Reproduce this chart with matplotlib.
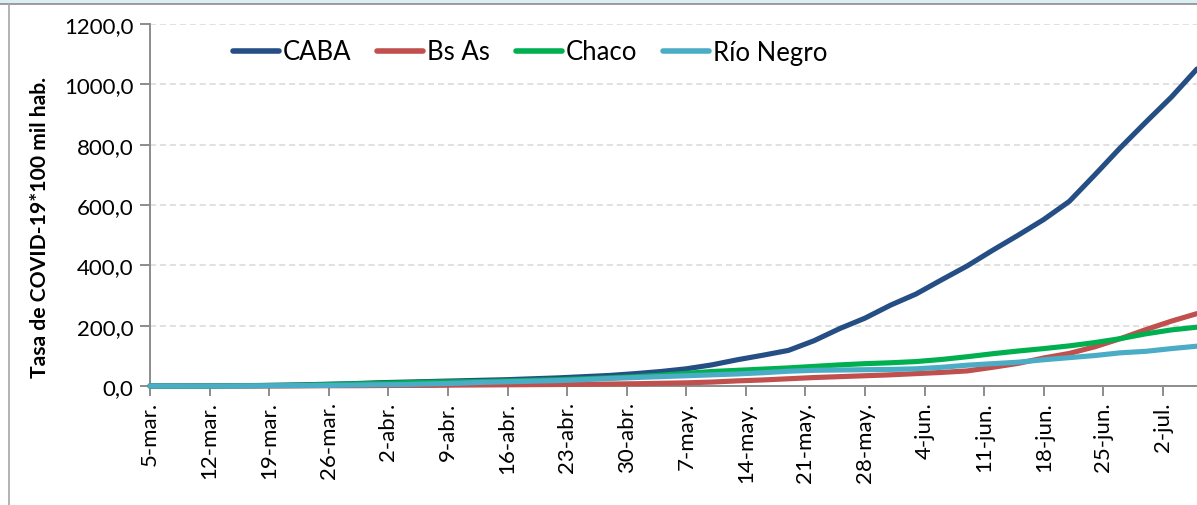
import matplotlib
matplotlib.use('Agg')
import matplotlib.pyplot as plt
from matplotlib.ticker import FuncFormatter
from matplotlib.patches import Rectangle
from matplotlib.lines import Line2D
import pandas as pd

plt.rcParams['font.family'] = ['Lato', 'DejaVu Sans']

# one reading every 3 days, 5-mar to 6-jul
dates = pd.date_range('2020-03-05', '2020-07-06', freq='3D')

caba = [0, 0, 0.5, 1, 1.5, 2.5, 4, 6, 8, 11, 13, 15, 17, 19, 21, 24, 27, 31, 35, 41,
        48, 57, 70, 87, 102, 118, 150, 190, 225, 268, 305, 352, 398, 450, 500, 552,
        612, 700, 790, 875, 958, 1051]
bs_as = [0, 0, 0, 0, 0, 0, 0.5, 1, 1, 1.5, 2, 2, 3, 3.5, 4, 4.5, 5, 5.5, 6.5, 7.5,
         9, 10.5, 13, 17, 20, 24, 28, 31, 34, 37, 41, 45, 50, 62, 75, 93,
         108, 130, 157, 187, 215, 240]
chaco = [0, 0, 0, 0.5, 1, 2, 3, 5, 7, 9, 11, 13, 14, 15, 17, 19, 21, 24, 27, 31,
         36, 42, 48, 52, 56, 60, 65, 70, 74, 77, 81, 88, 97, 107, 116, 124,
         133, 144, 157, 173, 186, 195]
rio_negro = [0, 0, 0, 0, 0.5, 1, 1.5, 2, 3, 4, 5, 7, 9, 12, 14, 16, 18, 21, 25, 28,
             31, 34, 37, 40, 44, 49, 52, 53, 54, 55, 57, 62, 69, 74, 79, 87,
             94, 101, 110, 115, 124, 132]

series_names = ['CABA', 'Bs As', 'Chaco', 'Río Negro']
series_colors = ['#254e84', '#c0504d', '#00b050', '#4bacc6']

tick_dates = pd.date_range('2020-03-05', '2020-07-02', freq='7D')
tick_labels = ['5-mar.', '12-mar.', '19-mar.', '26-mar.', '2-abr.', '9-abr.', '16-abr.',
               '23-abr.', '30-abr.', '7-may.', '14-may.', '21-may.', '28-may.', '4-jun.',
               '11-jun.', '18-jun.', '25-jun.', '2-jul.']

W, H = 1197, 506
fig = plt.figure(figsize=(W / 100, H / 100), dpi=100)
ax = fig.add_axes([150 / W, 1 - 387 / H, (W - 150) / W, (387 - 25) / H])

for vals, name, col in zip([caba, bs_as, chaco, rio_negro], series_names, series_colors):
    ax.plot(dates, vals, color=col, lw=3.7, label=name, solid_capstyle='round',
            solid_joinstyle='round', clip_on=False, zorder=3)

ax.set_ylim(0, 1200)
ax.set_xlim(dates[0], dates[-1])
ax.set_yticks(range(0, 1201, 200))
ax.yaxis.set_major_formatter(FuncFormatter(lambda v, p: f'{v:.1f}'.replace('.', ',')))
ax.set_xticks(tick_dates)
ax.set_xticklabels(tick_labels, rotation=90)

ax.grid(axis='y', color='#d9d9d9', lw=1.1, ls=(0, (4, 2.5)))
ax.set_axisbelow(True)
for s in ['top', 'right']:
    ax.spines[s].set_visible(False)
for s in ['left', 'bottom']:
    ax.spines[s].set_color('#8c8c8c')
    ax.spines[s].set_linewidth(1.4)
ax.tick_params(axis='both', colors='#8c8c8c', length=7, width=1.4, labelsize=16,
               labelcolor='black')
ax.tick_params(axis='x', pad=4)
ax.tick_params(axis='y', pad=5)

fig.text(40 / W, 1 - 227 / H, 'Tasa de COVID-19*100 mil hab.', rotation=90,
         ha='center', va='center', fontsize=15.2, fontweight='bold')

handles = [Line2D([], [], color=c, lw=4, solid_capstyle='round') for c in series_colors]
fig.legend(handles, series_names, loc='center', bbox_to_anchor=(530 / W, 1 - 53 / H),
           ncol=4, frameon=False, fontsize=18.5, handlelength=1.8, handletextpad=0.15,
           columnspacing=1.0, borderaxespad=0)

# frame of the surrounding chart area
fig.patches.append(Rectangle((0, 1 - 5 / H), 1, 5 / H, transform=fig.transFigure,
                             facecolor='#dbeef4', edgecolor='none'))
fig.lines.append(Line2D([0, 1], [1 - 5 / H, 1 - 5 / H], transform=fig.transFigure,
                        color='#8c8c8c', lw=1.2))
fig.lines.append(Line2D([9 / W, 9 / W], [0, 1 - 5 / H], transform=fig.transFigure,
                        color='#a6a6a6', lw=1.2))

fig.savefig('out.png', dpi=100)
